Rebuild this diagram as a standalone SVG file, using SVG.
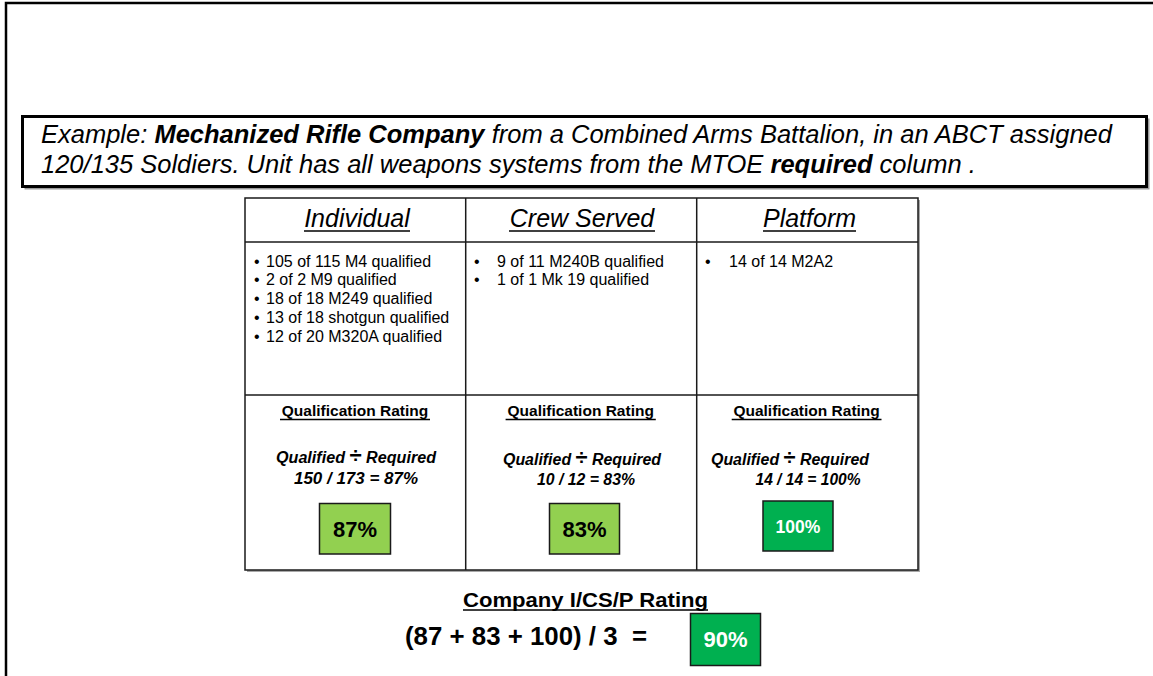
<svg xmlns="http://www.w3.org/2000/svg" width="1153" height="676" viewBox="0 0 1153 676">
<style>
  text { font-family: "Liberation Sans", Arial, sans-serif; fill: #000; }
  .banner { font-size: 25.5px; font-style: italic; }
  .hdr { font-size: 25px; font-style: italic; text-anchor: middle; }
  .item { font-size: 16px; }
  .qr { font-size: 15.5px; font-weight: bold; text-anchor: middle; }
  .qf { font-size: 16px; font-weight: bold; font-style: italic; text-anchor: middle; }
  .pct { font-size: 22px; font-weight: bold; text-anchor: middle; }
  .pctw { font-weight: bold; text-anchor: middle; fill: #fff; }
  .ul { stroke: #000; stroke-width: 1.3; }
  .cell { fill: none; stroke: #1a1a1a; stroke-width: 1.5; }
  .tbl { fill: #fff; stroke: #1a1a1a; stroke-width: 1.5; }
  .lg { fill: #92D050; stroke: #1a1a1a; stroke-width: 1.5; }
  .dg { fill: #00B050; stroke: #1a1a1a; stroke-width: 1.5; }
</style>
<rect width="1153" height="676" fill="#fff"/>
<g id="frame">
  <path d="M6,676 V3 H1153" fill="none" stroke="#000" stroke-width="2.5"/>
</g>
<g id="banner">
  <rect x="24.5" y="118.5" width="1125" height="71" fill="#9a9a9a"/>
  <rect x="22.5" y="116.5" width="1124" height="70" fill="#fff" stroke="#000" stroke-width="3"/>
  <text class="banner" x="41" y="143.3">Example: <tspan font-weight="bold">Mechanized Rifle Company</tspan> from a Combined Arms Battalion, in an ABCT assigned</text>
  <text class="banner" x="41" y="173.3">120/135 Soldiers. Unit has all weapons systems from the MTOE <tspan font-weight="bold">required</tspan> column .</text>
</g>
<g id="table">
  <rect x="247" y="200" width="673" height="372" fill="#a8a8a8"/>
  <rect class="tbl" x="245" y="198" width="673" height="372"/>
  <line class="cell" x1="465.7" y1="198" x2="465.7" y2="570"/>
  <line class="cell" x1="696.7" y1="198" x2="696.7" y2="570"/>
  <line class="cell" x1="245" y1="242" x2="918" y2="242"/>
  <line class="cell" x1="245" y1="395" x2="918" y2="395"/>
</g>
<g id="col-individual">
  <text class="hdr" x="357" y="227">Individual</text>
  <line class="ul" x1="304" y1="231" x2="410" y2="231"/>
  <text class="item" x="254" y="266.5">•</text>
  <text class="item" x="254" y="285.3">•</text>
  <text class="item" x="254" y="304">•</text>
  <text class="item" x="254" y="322.8">•</text>
  <text class="item" x="254" y="341.5">•</text>
  <text class="item" x="266" y="266.5">105 of 115 M4 qualified</text>
  <text class="item" x="266" y="285.3">2 of 2 M9 qualified</text>
  <text class="item" x="266" y="304">18 of 18 M249 qualified</text>
  <text class="item" x="266" y="322.8">13 of 18 shotgun qualified</text>
  <text class="item" x="266" y="341.5">12 of 20 M320A qualified</text>
  <text class="qr" x="355" y="416">Qualification Rating</text>
  <line class="ul" x1="280" y1="419.5" x2="430" y2="419.5"/>
  <text class="qf" x="356" y="462.5" textLength="160" lengthAdjust="spacingAndGlyphs">Qualified <tspan font-size="22" font-style="normal">÷</tspan> Required</text>
  <text class="qf" x="356" y="483.5" textLength="124" lengthAdjust="spacingAndGlyphs">150 / 173 = 87%</text>
  <rect class="lg" x="319.5" y="503.5" width="71" height="50.5"/>
  <text class="pct" x="355" y="537">87%</text>
</g>
<g id="col-crew-served">
  <text class="hdr" x="582" y="227">Crew Served</text>
  <line class="ul" x1="509" y1="231" x2="655" y2="231"/>
  <text class="item" x="474" y="266.5">•</text>
  <text class="item" x="474" y="285.3">•</text>
  <text class="item" x="497" y="266.5">9 of 11 M240B qualified</text>
  <text class="item" x="497" y="285.3">1 of 1 Mk 19 qualified</text>
  <text class="qr" x="580.7" y="416">Qualification Rating</text>
  <line class="ul" x1="505.6" y1="419.5" x2="655.8" y2="419.5"/>
  <text class="qf" x="582" y="464.5" textLength="158" lengthAdjust="spacingAndGlyphs">Qualified <tspan font-size="22" font-style="normal">÷</tspan> Required</text>
  <text class="qf" x="586" y="485" textLength="98" lengthAdjust="spacingAndGlyphs">10 / 12 = 83%</text>
  <rect class="lg" x="549.5" y="503.5" width="70" height="50.5"/>
  <text class="pct" x="584.5" y="537">83%</text>
</g>
<g id="col-platform">
  <text class="hdr" x="809.5" y="227">Platform</text>
  <line class="ul" x1="763" y1="231" x2="856" y2="231"/>
  <text class="item" x="705" y="266.5">•</text>
  <text class="item" x="729" y="266.5">14 of 14 M2A2</text>
  <text class="qr" x="806.6" y="416">Qualification Rating</text>
  <line class="ul" x1="731.7" y1="419.5" x2="881.5" y2="419.5"/>
  <text class="qf" x="790" y="464.5" textLength="158" lengthAdjust="spacingAndGlyphs">Qualified <tspan font-size="22" font-style="normal">÷</tspan> Required</text>
  <text class="qf" x="808" y="485" textLength="105" lengthAdjust="spacingAndGlyphs">14 / 14 = 100%</text>
  <rect class="dg" x="763" y="501" width="70" height="50"/>
  <text class="pctw" x="798" y="533" font-size="17.5">100%</text>
</g>
<g id="company-rating">
  <text x="585.5" y="606.5" font-size="21" font-weight="bold" text-anchor="middle" textLength="245" lengthAdjust="spacingAndGlyphs">Company I/CS/P Rating</text>
  <line x1="463" y1="610" x2="708" y2="610" stroke="#000" stroke-width="1.6"/>
  <text x="405" y="645" font-size="25.5" font-weight="bold" xml:space="preserve" textLength="242" lengthAdjust="spacingAndGlyphs">(87 + 83 + 100) / 3  =</text>
  <rect class="dg" x="690.5" y="613.5" width="70" height="52"/>
  <text class="pctw" x="725.5" y="647" font-size="22">90%</text>
</g>
</svg>
